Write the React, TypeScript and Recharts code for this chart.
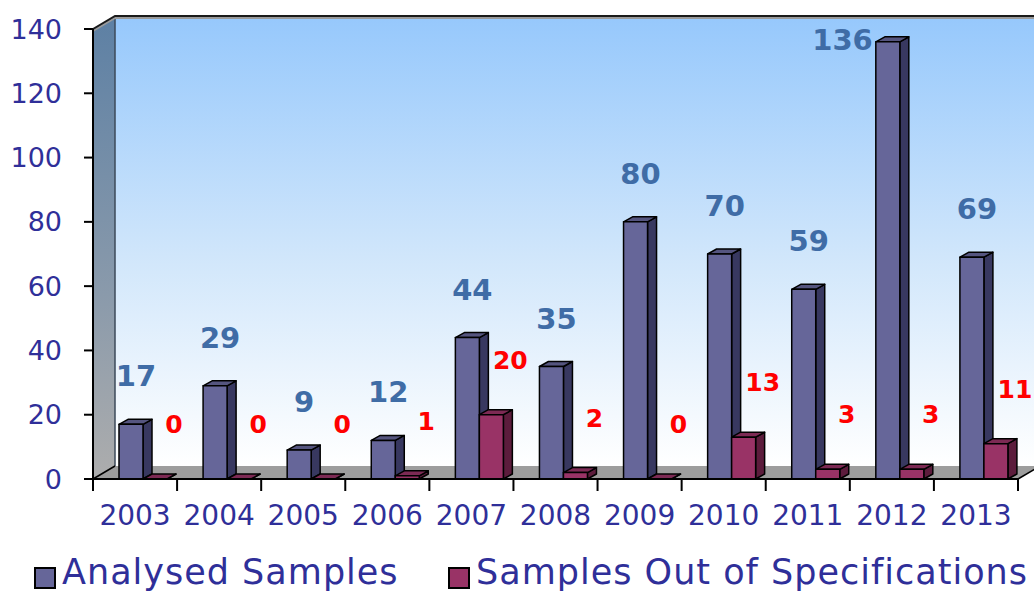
import { Bar, BarChart, LabelList, Legend, XAxis, YAxis } from "recharts";

const years = ["2003", "2004", "2005", "2006", "2007", "2008", "2009", "2010", "2011", "2012", "2013"];
const analysedSamples = [17, 29, 9, 12, 44, 35, 80, 70, 59, 136, 69];
const outOfSpecSamples = [0, 0, 0, 1, 20, 2, 0, 13, 3, 3, 11];
const yTicks = [0, 20, 40, 60, 80, 100, 120, 140];

const data = years.map((year, i) => ({
  year,
  analysed: analysedSamples[i],
  outOfSpec: outOfSpecSamples[i],
}));

const W = 1034;
const H = 592;
const PLOT_LEFT = 93;
const PLOT_TOP = 29;
const PLOT_RIGHT = 1018;
const PLOT_BOTTOM = 479;
const BAND = (PLOT_RIGHT - PLOT_LEFT) / years.length;
// depth of the walls and of each bar
const WALL_DX = 22;
const WALL_DY = 13;
const BAR_DX = 9;
const BAR_DY = 5;
const BAR_SHIFT = 8;

const FONT = "'DejaVu Sans', sans-serif";
const NAVY = "#2f2f99";

const series = [
  { key: "analysed", name: "Analysed Samples", front: "#666699", top: "#55557f", side: "#383860", label: "#3f6ca6" },
  { key: "outOfSpec", name: "Samples Out of Specifications", front: "#993366", top: "#7d2a54", side: "#5c1c3c", label: "#ff0000" },
];

const makeBox = (colors: (typeof series)[number]) => (props: any) => {
  const { x, y, width, height } = props;
  const x0 = x + BAR_SHIFT;
  const x1 = x0 + width;
  const y1 = y + height;
  return (
    <g stroke="#000" strokeWidth={1.5} strokeLinejoin="round">
      <polygon
        points={`${x1},${y} ${x1 + BAR_DX},${y - BAR_DY} ${x1 + BAR_DX},${y1 - BAR_DY} ${x1},${y1}`}
        fill={colors.side}
      />
      <polygon
        points={`${x0},${y} ${x0 + BAR_DX},${y - BAR_DY} ${x1 + BAR_DX},${y - BAR_DY} ${x1},${y}`}
        fill={colors.top}
      />
      {height > 0 && <rect x={x0} y={y} width={width} height={height} fill={colors.front} />}
    </g>
  );
};

const blueLabel = (props: any) => {
  const { x, y, width, value } = props;
  const cx = x + BAR_SHIFT + width / 2 + 5;
  let base = y - 38;
  let anchor: "middle" | "end" = "middle";
  let tx = cx;
  // no room above the tallest bar: put the number beside it
  if (base - 21 < PLOT_TOP - 10) {
    base = y + 8;
    anchor = "end";
    tx = x + BAR_SHIFT - 3;
  }
  return (
    <text x={tx} y={base} textAnchor={anchor} fontFamily={FONT} fontWeight="bold" fontSize={29} fill={series[0].label}>
      {value}
    </text>
  );
};

const redLabel = (props: any) => {
  const { x, y, width, value } = props;
  return (
    <text
      x={x + BAR_SHIFT + width / 2 + 19}
      y={y - 46}
      textAnchor="middle"
      fontFamily={FONT}
      fontWeight="bold"
      fontSize={25}
      fill={series[1].label}
    >
      {value}
    </text>
  );
};

const XTick = (props: any) => {
  const { x, y, payload, index } = props;
  const half = BAND / 2;
  return (
    <g>
      <line x1={x - half} x2={x - half} y1={y} y2={y + 12} stroke="#000" strokeWidth={2} />
      {index === years.length - 1 && (
        <line x1={x + half} x2={x + half} y1={y} y2={y + 12} stroke="#000" strokeWidth={2} />
      )}
      <text x={x} y={y + 46} textAnchor="middle" fontFamily={FONT} fontSize={28} fill={NAVY}>
        {payload.value}
      </text>
    </g>
  );
};

const LegendBox = () => (
  <svg width={W} height={40}>
    {series.map((s, i) => {
      const mx = i === 0 ? 35 : 449;
      return (
        <g key={s.key}>
          <rect x={mx} y={16} width={20} height={20} fill={s.front} stroke="#000" strokeWidth={2} />
          <text x={mx + 27} y={32} fontFamily={FONT} fontSize={35} letterSpacing={1} fill={NAVY}>
            {s.name}
          </text>
        </g>
      );
    })}
  </svg>
);

// back wall, side wall and floor sit behind the bars
const Walls = () => (
  <svg width={W} height={H} style={{ position: "absolute", left: 0, top: 0 }}>
    <defs>
      <linearGradient id="backWall" x1="0" y1="0" x2="0" y2="1">
        <stop offset="0%" stopColor="#96c8fc" />
        <stop offset="55%" stopColor="#d2e7fb" />
        <stop offset="100%" stopColor="#ffffff" />
      </linearGradient>
      <linearGradient id="sideWall" x1="0" y1="0" x2="0" y2="1">
        <stop offset="0%" stopColor="#5d80a4" />
        <stop offset="60%" stopColor="#8a9aab" />
        <stop offset="100%" stopColor="#adadad" />
      </linearGradient>
    </defs>
    <rect
      x={PLOT_LEFT + WALL_DX}
      y={PLOT_TOP - WALL_DY}
      width={W - PLOT_LEFT - WALL_DX}
      height={PLOT_BOTTOM - PLOT_TOP}
      fill="url(#backWall)"
    />
    <polygon
      points={`${PLOT_LEFT},${PLOT_TOP} ${PLOT_LEFT + WALL_DX},${PLOT_TOP - WALL_DY} ${PLOT_LEFT + WALL_DX},${PLOT_BOTTOM - WALL_DY} ${PLOT_LEFT},${PLOT_BOTTOM}`}
      fill="url(#sideWall)"
    />
    <line
      x1={PLOT_LEFT + WALL_DX}
      x2={PLOT_LEFT + WALL_DX}
      y1={PLOT_TOP - WALL_DY}
      y2={PLOT_BOTTOM - WALL_DY}
      stroke="#3c4a5a"
      strokeWidth={1.5}
    />
    <polygon
      points={`${PLOT_LEFT},${PLOT_BOTTOM} ${PLOT_RIGHT},${PLOT_BOTTOM} ${PLOT_RIGHT + WALL_DX},${PLOT_BOTTOM - WALL_DY} ${PLOT_LEFT + WALL_DX},${PLOT_BOTTOM - WALL_DY}`}
      fill="#9d9d9d"
    />
    <line x1={PLOT_LEFT} y1={PLOT_BOTTOM} x2={PLOT_LEFT + WALL_DX} y2={PLOT_BOTTOM - WALL_DY} stroke="#000" strokeWidth={1.5} />
    <line x1={PLOT_RIGHT} y1={PLOT_BOTTOM} x2={PLOT_RIGHT + WALL_DX} y2={PLOT_BOTTOM - WALL_DY} stroke="#000" strokeWidth={1.5} />
    <polyline
      points={`${PLOT_LEFT},${PLOT_TOP + 2} ${PLOT_LEFT + WALL_DX},${PLOT_TOP - WALL_DY + 2} ${W},${PLOT_TOP - WALL_DY + 2}`}
      fill="none"
      stroke="#9a9a9a"
      strokeWidth={2}
    />
    <polyline
      points={`${PLOT_LEFT},${PLOT_TOP} ${PLOT_LEFT + WALL_DX},${PLOT_TOP - WALL_DY} ${W},${PLOT_TOP - WALL_DY}`}
      fill="none"
      stroke="#1a1a1a"
      strokeWidth={2}
    />
  </svg>
);

export default function App() {
  return (
    <div style={{ position: "absolute", left: 0, top: 0, width: W, height: H, background: "#fff", overflow: "hidden" }}>
      <Walls />
      <div style={{ position: "absolute", left: 0, top: 0 }}>
        <BarChart
          width={W}
          height={H}
          data={data}
          margin={{ top: PLOT_TOP, right: W - PLOT_RIGHT, left: PLOT_LEFT - 60, bottom: 0 }}
          barGap={0}
          barCategoryGap={18}
        >
          <XAxis
            dataKey="year"
            height={73}
            tickSize={0}
            tickMargin={0}
            tickLine={false}
            axisLine={{ stroke: "#000", strokeWidth: 2 }}
            tick={<XTick />}
            interval={0}
          />
          <YAxis
            width={60}
            domain={[0, 140]}
            ticks={yTicks}
            interval={0}
            tickSize={9}
            tickMargin={22}
            axisLine={{ stroke: "#000", strokeWidth: 2 }}
            tickLine={{ stroke: "#000", strokeWidth: 2 }}
            tick={{ fontFamily: FONT, fontSize: 27, fill: NAVY }}
          />
          <Legend
            verticalAlign="bottom"
            height={40}
            wrapperStyle={{ left: 0, width: W, bottom: 0, height: 40 }}
            content={<LegendBox />}
          />
          <Bar dataKey="analysed" name={series[0].name} barSize={24} shape={makeBox(series[0])} isAnimationActive={false}>
            <LabelList dataKey="analysed" content={blueLabel} />
          </Bar>
          <Bar dataKey="outOfSpec" name={series[1].name} barSize={24} shape={makeBox(series[1])} isAnimationActive={false}>
            <LabelList dataKey="outOfSpec" content={redLabel} />
          </Bar>
        </BarChart>
      </div>
    </div>
  );
}
